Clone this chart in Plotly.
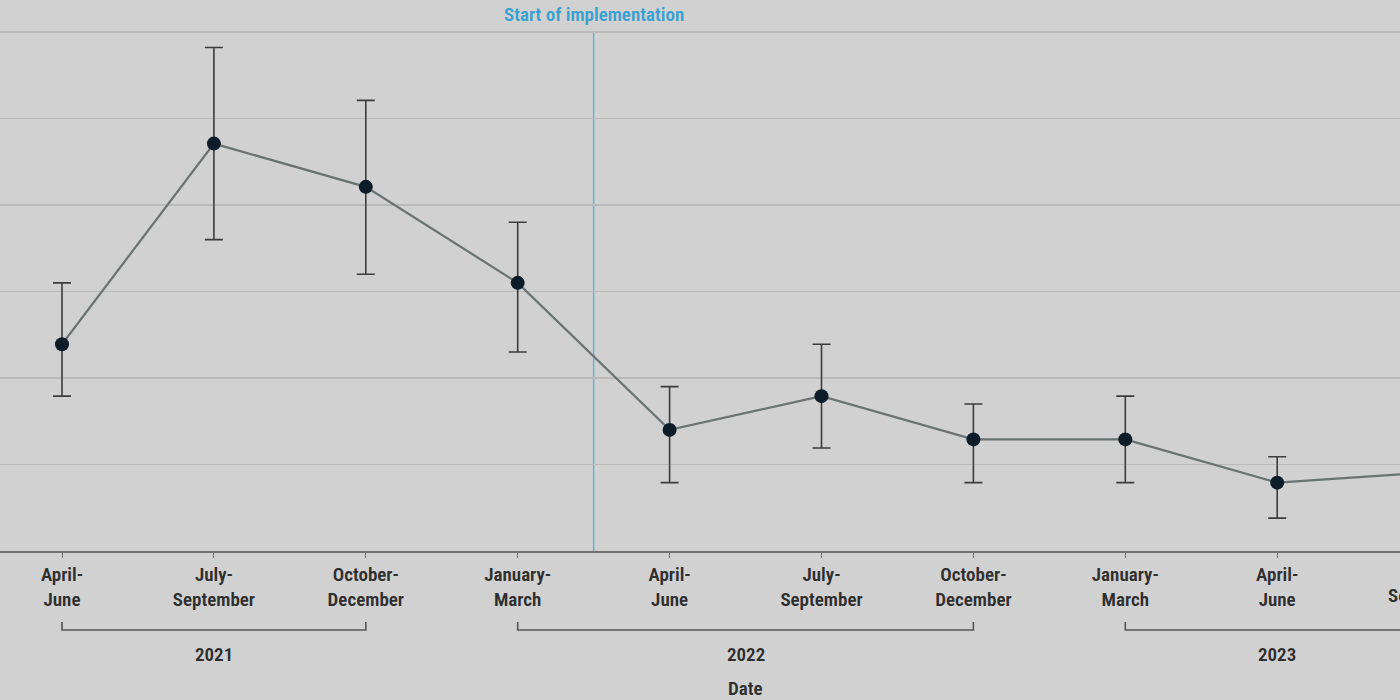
import plotly.graph_objects as go

quarters = ["April-<br>June", "July-<br>September", "October-<br>December",
            "January-<br>March", "April-<br>June", "July-<br>September",
            "October-<br>December", "January-<br>March", "April-<br>June",
            "July-<br>September"]
years = ["2021", "2021", "2021", "2022", "2022", "2022", "2022", "2023", "2023", "2023"]
values = [2.39, 4.71, 4.21, 3.10, 1.40, 1.79, 1.29, 1.29, 0.79, 0.91]
upper = [3.10, 5.82, 5.21, 3.80, 1.90, 2.39, 1.70, 1.79, 1.09, 1.25]
lower = [1.79, 3.60, 3.20, 2.30, 0.79, 1.19, 0.79, 0.79, 0.38, 0.55]
y_grid = [1, 2, 3, 4, 5, 6]
impl_index = 3.5  # between January-March 2022 and April-June 2022

x = list(range(len(quarters)))
err_plus = [u - v for u, v in zip(upper, values)]
err_minus = [v - l for v, l in zip(values, lower)]

FONT = "Liberation Sans Narrow, Roboto Condensed, Arial Narrow, sans-serif"
BG = "#d1d1d1"
TXT = "#2e2e2e"
W = 600
PLOT_H = 551.0

px_per = 151.9
xmin = -62 / px_per
xmax = xmin + 1400 / px_per

def paper_y(py):
    return (PLOT_H - py) / PLOT_H

def paper_x(xv):
    return (xv - xmin) / (xmax - xmin)

fig = go.Figure()
fig.add_trace(go.Scatter(
    x=x, y=values, mode="lines+markers",
    line=dict(color="#6a7272", width=2.2),
    marker=dict(color="#0c1d29", size=14),
    error_y=dict(type="data", symmetric=False, array=err_plus, arrayminus=err_minus,
                 color="#3c3c3c", thickness=1.6, width=9),
    cliponaxis=True, showlegend=False, hoverinfo="skip",
))

# vertical implementation line
fig.add_shape(type="line", xref="x", yref="y", x0=impl_index, x1=impl_index,
              y0=0, y1=max(y_grid), line=dict(color="#62b6dc", width=1.5), layer="below")
fig.add_annotation(xref="x", yref="paper", x=impl_index, y=paper_y(14), yanchor="middle",
                   text="Start of implementation", showarrow=False,
                   font=dict(family=FONT, size=19, color="#3aa0d0", weight=W))

# tick labels that fall beyond the visible x range (partially visible at the edge)
for xi, q in zip(x, quarters):
    if xi > xmax:
        fig.add_annotation(xref="paper", yref="paper", x=paper_x(xi), y=paper_y(557),
                           yanchor="top", xanchor="center", text=q, showarrow=False,
                           align="center",
                           font=dict(family=FONT, size=19, color=TXT, weight=W))

# year brackets
groups = {}
for i, yr in enumerate(years):
    groups.setdefault(yr, []).append(i)
yb = paper_y(630)
yt = paper_y(622)
for yr, idx in groups.items():
    a, b = min(idx), max(idx)
    fig.add_shape(type="path", xref="x", yref="paper",
                  path=f"M {a} {yt} L {a} {yb} L {b} {yb} L {b} {yt}",
                  line=dict(color="#555555", width=1.6))
    fig.add_annotation(xref="x", yref="paper", x=(a + b) / 2, y=paper_y(654),
                       yanchor="middle", text=yr, showarrow=False,
                       font=dict(family=FONT, size=19, color=TXT, weight=W))

fig.add_annotation(xref="x", yref="paper", x=(x[0] + x[-1]) / 2, y=paper_y(688),
                   yanchor="middle", text="Date", showarrow=False,
                   font=dict(family=FONT, size=19, color=TXT, weight=W))

fig.update_layout(
    width=1400, height=700,
    margin=dict(l=0, r=0, t=0, b=700 - PLOT_H),
    paper_bgcolor=BG, plot_bgcolor=BG,
    font=dict(family=FONT, size=19, color=TXT),
    hovermode=False,
    xaxis=dict(range=[xmin, xmax], tickmode="array", tickvals=x, ticktext=quarters,
               showgrid=False, zeroline=False, showline=True, linecolor="#707070",
               linewidth=2, ticks="outside", ticklen=5, tickcolor="#707070",
               tickfont=dict(family=FONT, size=19, color=TXT, weight=W)),
    yaxis=dict(range=[0, PLOT_H / 86.5], tickvals=y_grid, showticklabels=False,
               showgrid=True, gridcolor="#bababa", gridwidth=1.5, zeroline=False,
               showline=False),
)

fig.write_html("out.html", config={"displayModeBar": False, "staticPlot": True},
               post_script="document.body.style.margin='0';document.body.style.overflow='hidden';document.body.style.background='#d1d1d1';")
